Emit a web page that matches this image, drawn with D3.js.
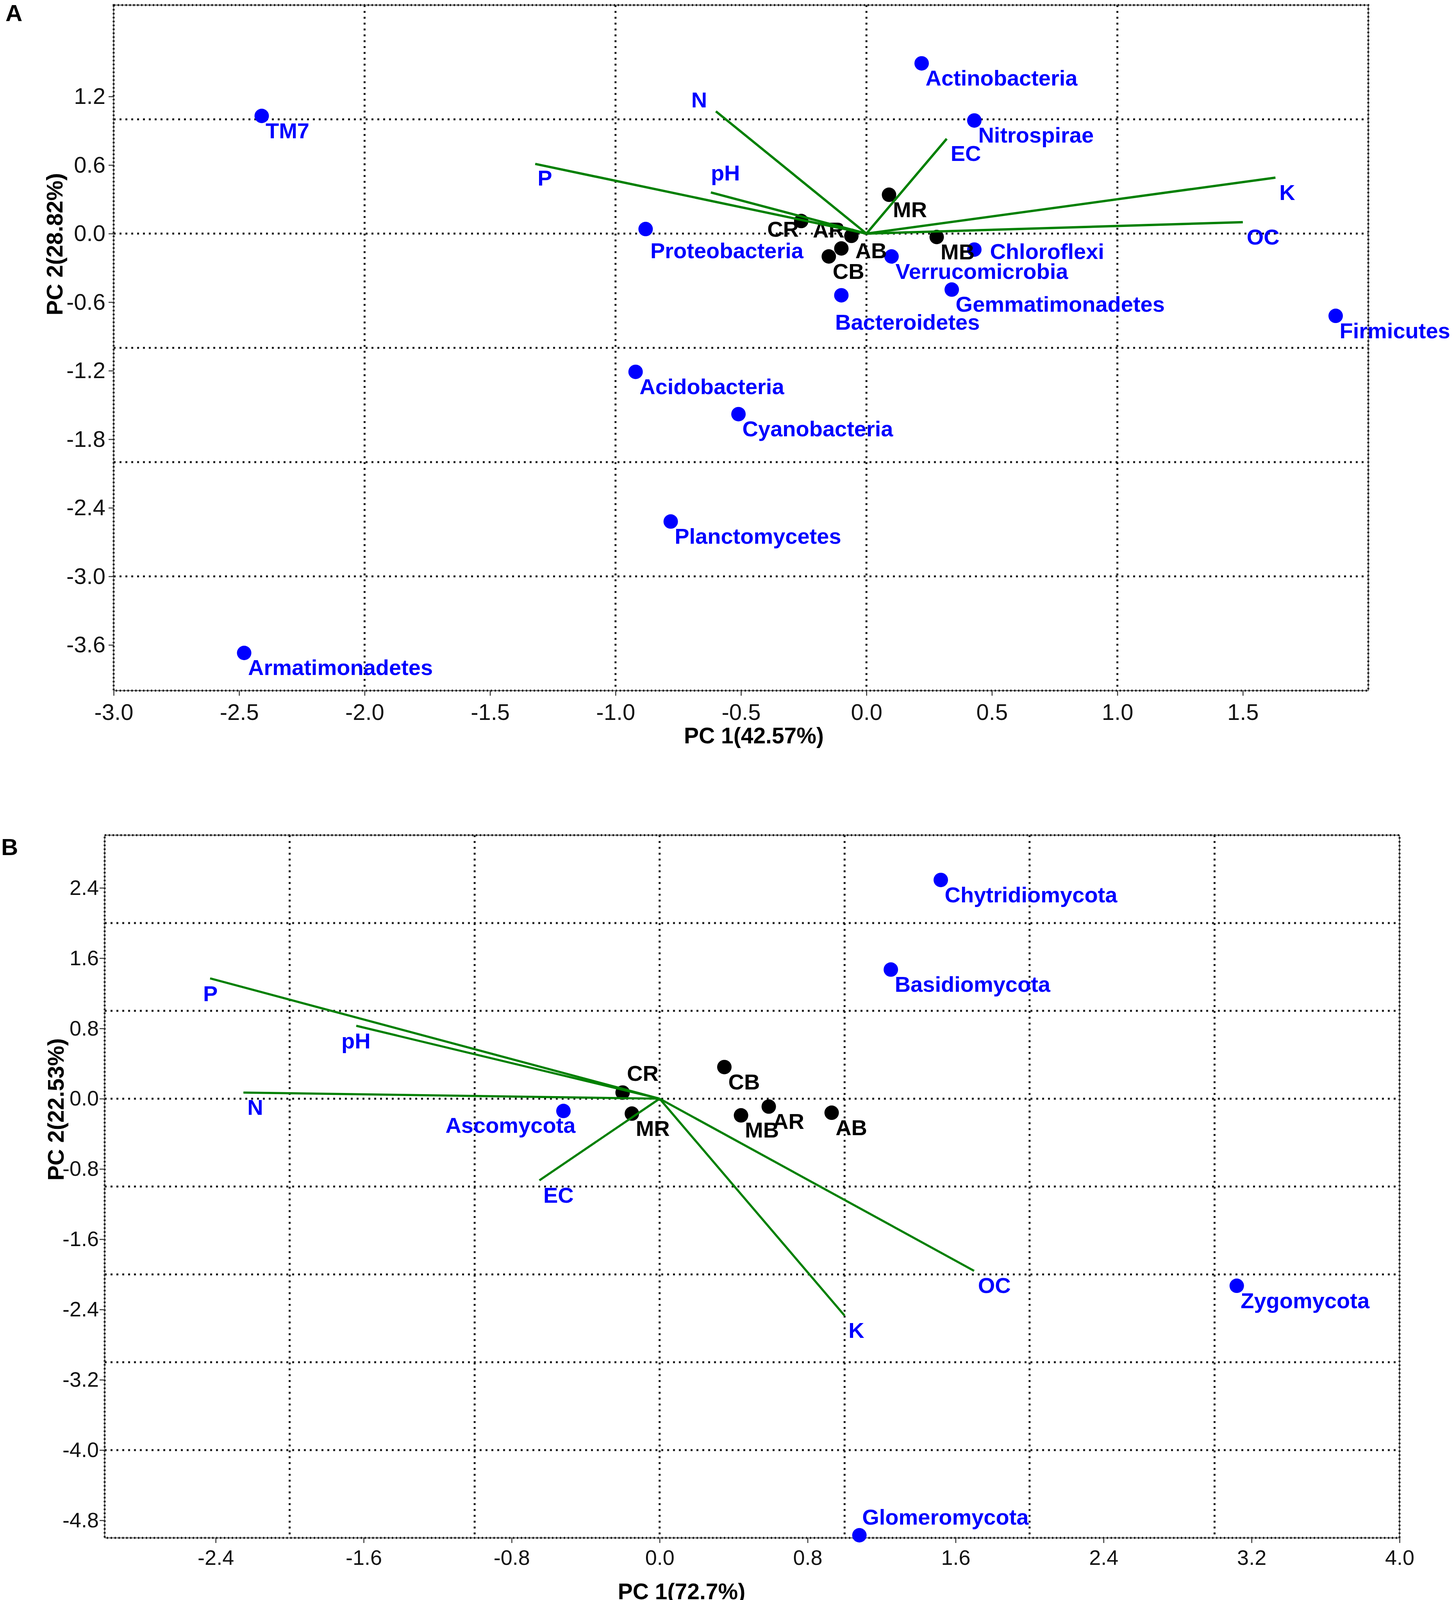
<!DOCTYPE html>
<html>
<head>
<meta charset="utf-8">
<script src="https://cdn.jsdelivr.net/npm/d3@7"></script>
<style>
  body { margin: 0; background: #fff; }
  svg { display: block; font-family: "Liberation Sans", Arial, sans-serif; }
</style>
</head>
<body>
<script>
// ---- panel A : bacterial phyla ----
const phylaA = ["TM7", "Actinobacteria", "Nitrospirae", "Proteobacteria", "Chloroflexi", "Verrucomicrobia",
  "Gemmatimonadetes", "Bacteroidetes", "Firmicutes", "Acidobacteria", "Cyanobacteria", "Planctomycetes", "Armatimonadetes"];
const phylaA_pc1 = [-2.41, 0.22, 0.43, -0.88, 0.43, 0.10, 0.34, -0.10, 1.87, -0.92, -0.51, -0.78, -2.48];
const phylaA_pc2 = [1.03, 1.49, 0.99, 0.04, -0.14, -0.20, -0.49, -0.54, -0.72, -1.21, -1.58, -2.52, -3.67];

const sitesA = ["MR", "CR", "AR", "AB", "CB", "MB"];
const sitesA_pc1 = [0.09, -0.26, -0.10, -0.06, -0.15, 0.28];
const sitesA_pc2 = [0.34, 0.11, -0.13, -0.02, -0.20, -0.03];

const varsA = ["N", "P", "pH", "EC", "K", "OC"];
const varsA_pc1 = [-0.60, -1.32, -0.62, 0.32, 1.63, 1.50];
const varsA_pc2 = [1.07, 0.61, 0.36, 0.83, 0.49, 0.10];

const xTicksA = [-3.0, -2.5, -2.0, -1.5, -1.0, -0.5, 0.0, 0.5, 1.0, 1.5];
const yTicksA = [1.2, 0.6, 0.0, -0.6, -1.2, -1.8, -2.4, -3.0, -3.6];

// ---- panel B : fungal phyla ----
const phylaB = ["Chytridiomycota", "Basidiomycota", "Ascomycota", "Zygomycota", "Glomeromycota"];
const phylaB_pc1 = [1.52, 1.25, -0.52, 3.12, 1.08];
const phylaB_pc2 = [2.49, 1.47, -0.14, -2.13, -4.97];

const sitesB = ["CR", "MR", "CB", "MB", "AR", "AB"];
const sitesB_pc1 = [-0.20, -0.15, 0.35, 0.44, 0.59, 0.93];
const sitesB_pc2 = [0.07, -0.17, 0.36, -0.19, -0.09, -0.16];

const varsB = ["P", "pH", "N", "EC", "OC", "K"];
const varsB_pc1 = [-2.43, -1.64, -2.25, -0.65, 1.70, 1.00];
const varsB_pc2 = [1.37, 0.83, 0.07, -0.93, -1.96, -2.47];

const xTicksB = [-2.4, -1.6, -0.8, 0.0, 0.8, 1.6, 2.4, 3.2, 4.0];
const yTicksB = [2.4, 1.6, 0.8, 0.0, -0.8, -1.6, -2.4, -3.2, -4.0, -4.8];

// label placement (px from the point), default is below-right
const DEF_OFF = { dx: 10, dy: 57, anchor: "start" };
const labelOffA = {
  Proteobacteria: { dx: 12, dy: 75 }, Chloroflexi: { dx: 40, dy: 24 }, Bacteroidetes: { dx: -16, dy: 88 },
  CR: { dx: -87, dy: 40 }, AR: { dx: -73, dy: -28 },
  N: { dx: -63, dy: -10 }, P: { dx: 6, dy: 55 }, pH: { dx: 0, dy: -31 }
};
const labelOffB = {
  Ascomycota: { dx: 31, dy: 56, anchor: "end" }, Glomeromycota: { dx: 7, dy: -27 },
  CR: { dx: 11, dy: -30 }, P: { dx: -18, dy: 58 }, pH: { dx: -38, dy: 58 }
};

const W = 3725, H = 4128;
const BLUE = "#0000ff", GREEN = "#008000";
const fmt = d => d.toFixed(1);

const svg = d3.select("body").append("svg").attr("width", W).attr("height", H);
svg.append("rect").attr("width", W).attr("height", H).attr("fill", "#fff");

function zip(names, a, b) { return names.map((n, i) => ({ name: n, x: a[i], y: b[i] })); }

function drawPanel(cfg) {
  const g = svg.append("g");
  const x = d3.scaleLinear().domain(cfg.xDomain).range([cfg.left, cfg.right]);
  const y = d3.scaleLinear().domain(cfg.yDomain).range([cfg.bottom, cfg.top]);

  // dotted grid at whole units
  const xg = d3.range(Math.ceil(cfg.xDomain[0]) + 1, cfg.xDomain[1]);
  const yg = d3.range(Math.ceil(cfg.yDomain[0]) + 1, cfg.yDomain[1]);
  g.selectAll(".vg").data(xg).join("line")
    .attr("x1", d => x(d)).attr("x2", d => x(d)).attr("y1", cfg.top).attr("y2", cfg.bottom)
    .attr("stroke", "#1a1a1a").attr("stroke-width", 5).attr("stroke-dasharray", "5,10");
  g.selectAll(".hg").data(yg).join("line")
    .attr("y1", d => y(d)).attr("y2", d => y(d)).attr("x1", cfg.left).attr("x2", cfg.right)
    .attr("stroke", "#1a1a1a").attr("stroke-width", 5).attr("stroke-dasharray", "5,10");

  // frame
  g.append("rect").attr("x", cfg.left).attr("y", cfg.top)
    .attr("width", cfg.right - cfg.left).attr("height", cfg.bottom - cfg.top)
    .attr("fill", "none").attr("stroke", "#555").attr("stroke-width", 2);
  g.append("rect").attr("x", cfg.left).attr("y", cfg.top)
    .attr("width", cfg.right - cfg.left).attr("height", cfg.bottom - cfg.top)
    .attr("fill", "none").attr("stroke", "#1a1a1a").attr("stroke-width", 5).attr("stroke-dasharray", "4,6");

  // axes
  const ax = g.append("g").attr("transform", `translate(0,${cfg.bottom})`)
    .call(d3.axisBottom(x).tickValues(cfg.xTicks).tickFormat(fmt).tickSize(13).tickPadding(cfg.xPad));
  const ay = g.append("g").attr("transform", `translate(${cfg.left},0)`)
    .call(d3.axisLeft(y).tickValues(cfg.yTicks).tickFormat(fmt).tickSize(13).tickPadding(cfg.yPad));
  [ax, ay].forEach(a => {
    a.select(".domain").remove();
    a.selectAll("line").attr("stroke", "#333").attr("stroke-width", 2.5);
    a.selectAll("text").attr("fill", "#111").style("font-size", cfg.tickFont + "px")
      .style("font-family", '"Liberation Sans", Arial, sans-serif');
  });

  // axis titles
  g.append("text").attr("x", cfg.xTitle[0]).attr("y", cfg.xTitle[1])
    .attr("text-anchor", "middle").style("font-size", "57px").style("font-weight", "bold")
    .text(cfg.xLabel);
  g.append("text").attr("transform", `translate(${cfg.yTitle[0]},${cfg.yTitle[1]}) rotate(-90)`)
    .attr("text-anchor", "middle").attr("dy", "0.35em")
    .style("font-size", "58px").style("font-weight", "bold").text(cfg.yLabel);
  g.append("text").attr("x", cfg.letter[0]).attr("y", cfg.letter[1])
    .style("font-size", "60px").style("font-weight", "bold").text(cfg.letterText);

  const off = n => Object.assign({}, DEF_OFF, cfg.offsets[n] || {});

  // points
  g.selectAll(".tp").data(cfg.taxa).join("circle")
    .attr("cx", d => x(d.x)).attr("cy", d => y(d.y)).attr("r", 18.5).attr("fill", BLUE);
  g.selectAll(".sp").data(cfg.sites).join("circle")
    .attr("cx", d => x(d.x)).attr("cy", d => y(d.y)).attr("r", 18.5).attr("fill", "#000");

  // labels
  const lab = (data, color) => g.selectAll(null).data(data).join("text")
    .attr("x", d => x(d.x) + off(d.name).dx).attr("y", d => y(d.y) + off(d.name).dy)
    .attr("text-anchor", d => off(d.name).anchor)
    .attr("fill", color).style("font-size", "56px").style("font-weight", "bold")
    .text(d => d.name);
  lab(cfg.taxa, BLUE);
  lab(cfg.sites, "#000");
  lab(cfg.vars, BLUE);

  // environmental vectors
  g.selectAll(".vec").data(cfg.vars).join("line")
    .attr("x1", x(0)).attr("y1", y(0)).attr("x2", d => x(d.x)).attr("y2", d => y(d.y))
    .attr("stroke", GREEN).attr("stroke-width", cfg.vecWidth);
}

drawPanel({
  left: 291, right: 3503, top: 13, bottom: 1768,
  xDomain: [-3, 2], yDomain: [-4, 2], xTicks: xTicksA, yTicks: yTicksA,
  xPad: 21, yPad: 8, tickFont: 58, vecWidth: 6,
  xLabel: "PC 1(42.57%)", yLabel: "PC 2(28.82%)",
  xTitle: [1930, 1903], yTitle: [140, 625], letter: [14, 54], letterText: "A",
  taxa: zip(phylaA, phylaA_pc1, phylaA_pc2),
  sites: zip(sitesA, sitesA_pc1, sitesA_pc2),
  vars: zip(varsA, varsA_pc1, varsA_pc2),
  offsets: labelOffA
});

drawPanel({
  left: 268, right: 3583, top: 2138, bottom: 3937,
  xDomain: [-3, 4], yDomain: [-5, 3], xTicks: xTicksB, yTicks: yTicksB,
  xPad: 18, yPad: 2, tickFont: 54, vecWidth: 5.5,
  xLabel: "PC 1(72.7%)", yLabel: "PC 2(22.53%)",
  xTitle: [1745, 4094], yTitle: [143, 2840], letter: [3, 2189], letterText: "B",
  taxa: zip(phylaB, phylaB_pc1, phylaB_pc2),
  sites: zip(sitesB, sitesB_pc1, sitesB_pc2),
  vars: zip(varsB, varsB_pc1, varsB_pc2),
  offsets: labelOffB
});
</script>
</body>
</html>
